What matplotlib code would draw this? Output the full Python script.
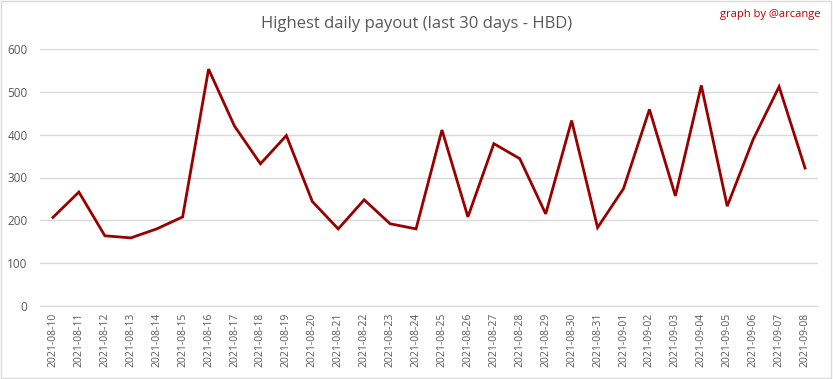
import matplotlib
matplotlib.use("Agg")
import matplotlib.pyplot as plt
from matplotlib.patches import Rectangle

plt.rcParams['font.family'] = ['Open Sans', 'DejaVu Sans']

dates = ["2021-08-10", "2021-08-11", "2021-08-12", "2021-08-13", "2021-08-14",
         "2021-08-15", "2021-08-16", "2021-08-17", "2021-08-18", "2021-08-19",
         "2021-08-20", "2021-08-21", "2021-08-22", "2021-08-23", "2021-08-24",
         "2021-08-25", "2021-08-26", "2021-08-27", "2021-08-28", "2021-08-29",
         "2021-08-30", "2021-08-31", "2021-09-01", "2021-09-02", "2021-09-03",
         "2021-09-04", "2021-09-05", "2021-09-06", "2021-09-07", "2021-09-08"]
payout = [207, 266, 164, 159, 180, 208, 553, 420, 332, 398,
          244, 180, 248, 192, 180, 411, 208, 379, 344, 215,
          433, 183, 274, 459, 257, 515, 233, 389, 512, 322]
y_ticks = [0, 100, 200, 300, 400, 500, 600]

grey = "#595959"

fig = plt.figure(figsize=(8.33, 3.79), dpi=100)
ax = fig.add_axes([40 / 833, 1 - 306 / 379, 778 / 833, 257 / 379])

x = range(len(dates))
ax.plot(x, payout, color="#990000", linewidth=2, solid_joinstyle="miter")

ax.set_xlim(-0.5, len(dates) - 0.5)
ax.set_ylim(0, 600)
ax.set_yticks(y_ticks)
ax.set_xticks(list(x))
ax.set_xticklabels(dates, rotation=90, fontsize=7.5, color=grey)
ax.tick_params(axis="y", labelsize=8.5, labelcolor=grey, length=0, pad=9)
ax.tick_params(axis="x", length=0, pad=5)
ax.grid(axis="y", color="#d9d9d9", linewidth=1)
ax.set_axisbelow(True)
for side in ["top", "right", "left"]:
    ax.spines[side].set_visible(False)
ax.spines["bottom"].set_color("#d9d9d9")

fig.text(0.5, 1 - 24 / 379, "Highest daily payout (last 30 days - HBD)",
         ha="center", va="center", fontsize=12, color=grey)
fig.text(821 / 833, 1 - 15 / 379, "graph by @arcange",
         ha="right", va="center", fontsize=8, color="#c00000")

# light border around the whole chart
fig.patches.append(Rectangle((0.001, 0.002), 0.997, 0.995, transform=fig.transFigure,
                             fill=False, edgecolor="#d9d9d9", linewidth=1))

plt.savefig("out.png", dpi=100)
